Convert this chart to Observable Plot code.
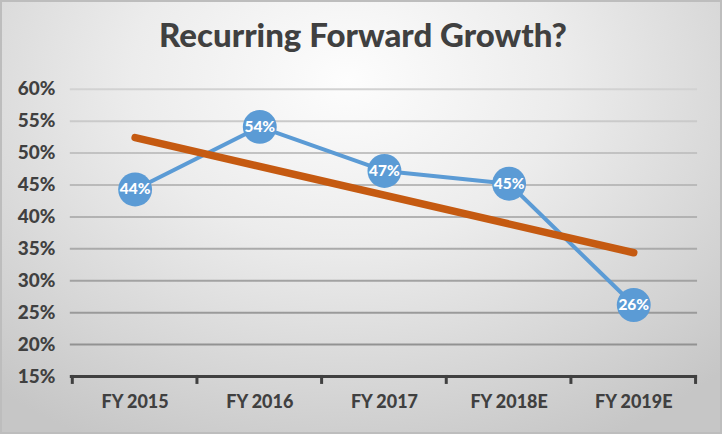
<!DOCTYPE html>
<html>
<head>
<meta charset="utf-8">
<script src="https://cdn.jsdelivr.net/npm/d3@7"></script>
<script src="https://cdn.jsdelivr.net/npm/@observablehq/plot@0.6"></script>
<style>
  html, body { margin: 0; padding: 0; }
  #chart {
    position: relative; width: 722px; height: 434px; box-sizing: border-box;
    border: 2px solid #bdbdbd;
    background: radial-gradient(ellipse 75% 95% at 48% 18%, #fdfdfd 0%, #ececec 40%, #d6d6d6 75%, #c6c6c6 100%);
    overflow: hidden;
    font-family: Lato, "Open Sans", sans-serif;
  }
  #title {
    position: absolute; left: 0; top: 12px; width: 722px; text-align: center;
    font-size: 33px; font-weight: 900; color: #404040;
  }
  #plot { position: absolute; left: -2px; top: -2px; }
</style>
</head>
<body>
<div id="chart">
  <div id="title">Recurring Forward Growth?</div>
  <div id="plot"></div>
</div>
<script>
const categories = ["FY 2015", "FY 2016", "FY 2017", "FY 2018E", "FY 2019E"];
const growth = [0.443, 0.541, 0.472, 0.452, 0.262];
const yTicks = [0.15, 0.20, 0.25, 0.30, 0.35, 0.40, 0.45, 0.50, 0.55, 0.60];

const data = categories.map((c, i) => ({category: c, value: growth[i]}));

// linear trendline (least squares) over category index
const n = growth.length;
const xm = (n - 1) / 2;
const ym = d3.mean(growth);
const slope = d3.sum(growth, (v, i) => (i - xm) * (v - ym)) / d3.sum(growth, (v, i) => (i - xm) ** 2);
const trend = [0, n - 1].map(i => ({category: categories[i], value: ym + slope * (i - xm)}));

const fmt = d3.format(".0%");
const blue = "#5b9bd5";
const orange = "#c55a11";
const ink = "#404040";

const plot = Plot.plot({
  width: 722,
  height: 434,
  marginLeft: 70,
  marginRight: 23,
  marginTop: 89,
  marginBottom: 57,
  style: {background: "transparent", fontFamily: "Lato, 'Open Sans', sans-serif", overflow: "visible"},
  x: {type: "point", domain: categories, padding: 0.5, label: null},
  y: {domain: [0.15, 0.60], label: null},
  marks: [
    Plot.ruleY(yTicks.slice(1), {stroke: "url(#gridGrad)", strokeWidth: 2}),
    Plot.ruleY([0.15], {stroke: ink, strokeWidth: 3}),
    Plot.axisY(yTicks, {tickSize: 0, tickPadding: 15, tickFormat: fmt, fontSize: 19, fontWeight: 900, fill: ink}),
    Plot.axisX({tickSize: 0, tickPadding: 19, fontSize: 18, fontWeight: 900, fill: ink}),
    Plot.line(data, {x: "category", y: "value", stroke: blue, strokeWidth: 4}),
    Plot.line(trend, {x: "category", y: "value", stroke: orange, strokeWidth: 7.5, strokeLinecap: "round", style: "filter:url(#soft)"}),
    Plot.dot(data, {x: "category", y: "value", r: 17, fill: blue, stroke: null}),
    Plot.text(data, {x: "category", y: "value", text: d => fmt(d.value), fill: "white", fontSize: 15.5, fontWeight: 900})
  ]
});

const svg = d3.select(plot);
const y = plot.scale("y");
const x = plot.scale("x");
const defs = svg.insert("defs", ":first-child");
const gg = defs.append("linearGradient").attr("id", "gridGrad").attr("gradientUnits", "userSpaceOnUse")
  .attr("x1", 0).attr("x2", 0).attr("y1", y.apply(0.60)).attr("y2", y.apply(0.15));
gg.append("stop").attr("offset", "0%").attr("stop-color", "#d2d2d2");
gg.append("stop").attr("offset", "100%").attr("stop-color", "#8a8a8a");
const f = defs.append("filter").attr("id", "soft").attr("x", "-10%").attr("y", "-50%").attr("width", "120%").attr("height", "200%");
f.append("feGaussianBlur").attr("stdDeviation", 0.8);

// x-axis tick marks at category boundaries
const step = x.apply(categories[1]) - x.apply(categories[0]);
const edges = categories.map(c => x.apply(c) - step / 2).concat([x.apply(categories[n - 1]) + step / 2]);
const y0 = y.apply(0.15);
svg.append("g").selectAll("line").data(edges).join("line")
  .attr("x1", d => d).attr("x2", d => d).attr("y1", y0 - 1).attr("y2", y0 + 8)
  .attr("stroke", ink).attr("stroke-width", 3);

document.getElementById("plot").appendChild(plot);
</script>
</body>
</html>
